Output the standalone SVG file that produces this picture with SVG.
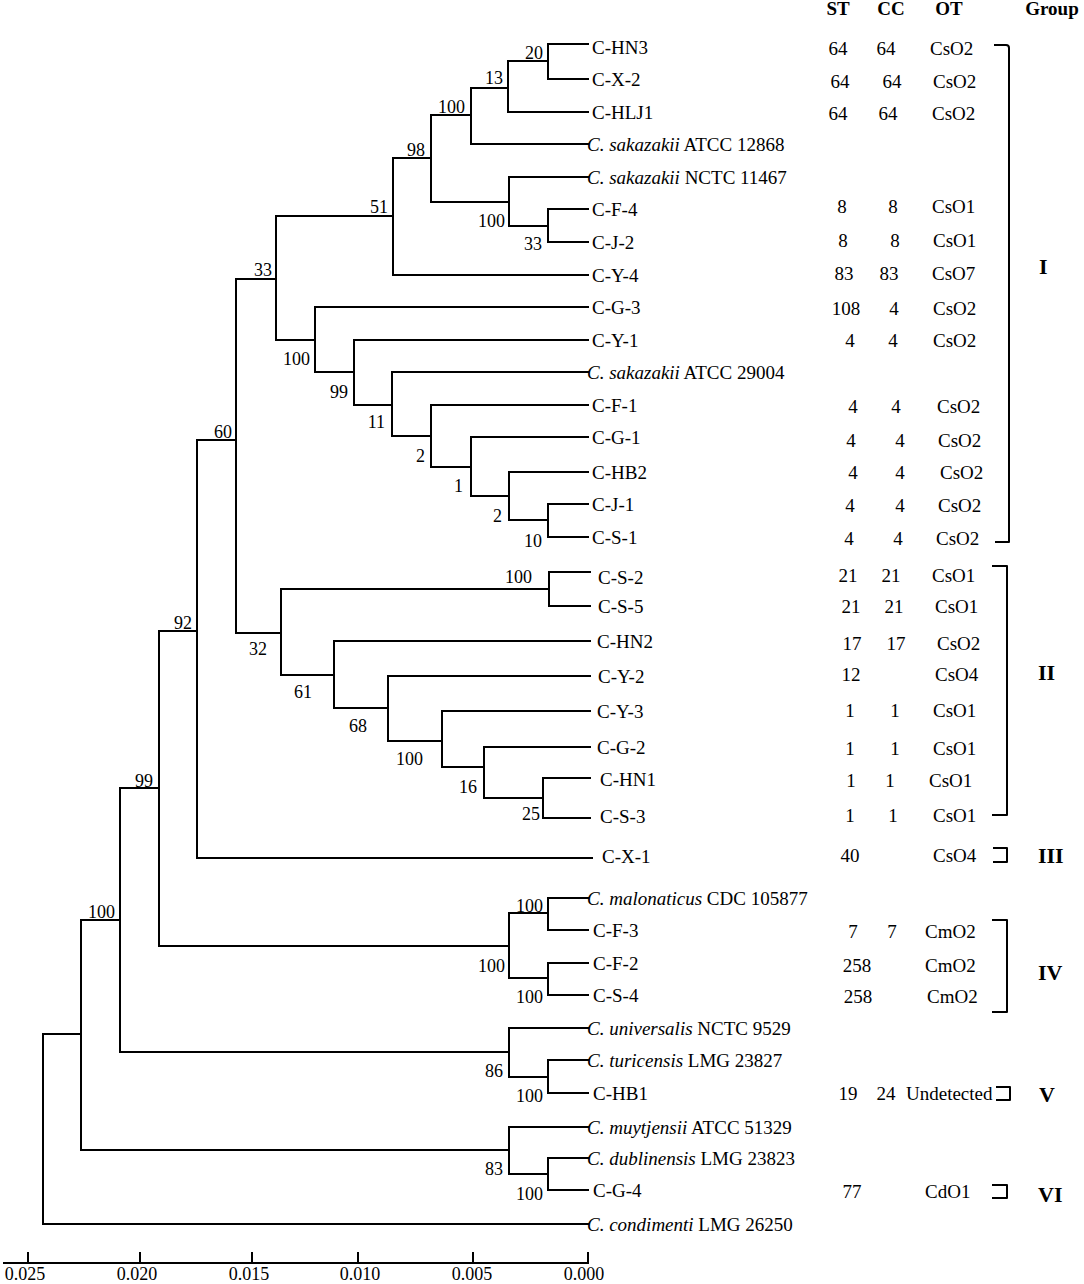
<svg xmlns="http://www.w3.org/2000/svg" width="1084" height="1284" viewBox="0 0 1084 1284">
<style>
text{font-family:"Liberation Serif","Times New Roman",serif;fill:#000}
.lf{font-size:19px}
.bs{font-size:18px;text-anchor:end}
.c{font-size:19px;text-anchor:middle}
.o{font-size:19px}
.h{font-size:19px;font-weight:bold;text-anchor:middle}
.g{font-size:22px;font-weight:bold}
.ax{font-size:18px;text-anchor:middle}
.it{font-style:italic}
.br{fill:none;stroke:#000;stroke-width:2;stroke-linejoin:round}
#connectors path{fill:none;stroke:#000;stroke-width:2;stroke-linecap:square}
</style>
<rect width="1084" height="1284" fill="#fff"/>
<g id="connectors">
<path d="M43,1034 V1224 M43,1034 H81 M43,1224 H588"/>
<path d="M81,920 V1150 M81,920 H120 M81,1150 H509"/>
<path d="M120,788 V1052 M120,788 H159 M120,1052 H509"/>
<path d="M159,631 V946 M159,631 H197 M159,946 H509"/>
<path d="M197,440 V858 M197,440 H236 M197,858 H592"/>
<path d="M236,279 V633 M236,279 H276 M236,633 H281"/>
<path d="M276,216 V340 M276,216 H393 M276,340 H315"/>
<path d="M393,158 V275 M393,158 H431 M393,275 H588"/>
<path d="M431,115 V202 M431,115 H471 M431,202 H509"/>
<path d="M471,88 V144 M471,88 H508 M471,144 H588"/>
<path d="M508,61 V112 M508,61 H548 M508,112 H588"/>
<path d="M548,44 V79 M548,44 H588 M548,79 H588"/>
<path d="M509,177 V226 M509,177 H588 M509,226 H548"/>
<path d="M548,209 V242 M548,209 H588 M548,242 H588"/>
<path d="M315,307 V372 M315,307 H588 M315,372 H354"/>
<path d="M354,340 V405 M354,340 H588 M354,405 H392"/>
<path d="M392,372 V436 M392,372 H588 M392,436 H431"/>
<path d="M431,405 V467 M431,405 H588 M431,467 H471"/>
<path d="M471,437 V496 M471,437 H588 M471,496 H509"/>
<path d="M509,472 V520 M509,472 H588 M509,520 H548"/>
<path d="M548,504 V537 M548,504 H588 M548,537 H588"/>
<path d="M281,589 V675 M281,589 H549 M281,675 H334"/>
<path d="M549,572 V606 M549,572 H590 M549,606 H590"/>
<path d="M334,641 V708 M334,641 H590 M334,708 H388"/>
<path d="M388,676 V741 M388,676 H590 M388,741 H442"/>
<path d="M442,711 V767 M442,711 H590 M442,767 H484"/>
<path d="M484,747 V798 M484,747 H590 M484,798 H543"/>
<path d="M543,778 V818 M543,778 H590 M543,818 H590"/>
<path d="M509,913 V978 M509,913 H548 M509,978 H548"/>
<path d="M548,898 V930 M548,898 H588 M548,930 H588"/>
<path d="M548,963 V995 M548,963 H588 M548,995 H588"/>
<path d="M509,1028 V1077 M509,1028 H588 M509,1077 H548"/>
<path d="M548,1060 V1093 M548,1060 H588 M548,1093 H588"/>
<path d="M509,1127 V1174 M509,1127 H588 M509,1174 H548"/>
<path d="M548,1158 V1190 M548,1158 H588 M548,1190 H588"/>
</g>
<g id="bootstrap">
<text class="bs" x="543" y="59">20</text>
<text class="bs" x="503" y="84">13</text>
<text class="bs" x="465" y="113">100</text>
<text class="bs" x="425" y="156">98</text>
<text class="bs" x="505" y="227">100</text>
<text class="bs" x="542" y="250">33</text>
<text class="bs" x="388" y="213">51</text>
<text class="bs" x="272" y="276">33</text>
<text class="bs" x="310" y="365">100</text>
<text class="bs" x="348" y="398">99</text>
<text class="bs" x="385" y="428">11</text>
<text class="bs" x="425" y="462">2</text>
<text class="bs" x="463" y="492">1</text>
<text class="bs" x="502" y="522">2</text>
<text class="bs" x="542" y="547">10</text>
<text class="bs" x="232" y="438">60</text>
<text class="bs" x="267" y="655">32</text>
<text class="bs" x="532" y="583">100</text>
<text class="bs" x="312" y="698">61</text>
<text class="bs" x="367" y="732">68</text>
<text class="bs" x="423" y="765">100</text>
<text class="bs" x="477" y="793">16</text>
<text class="bs" x="540" y="820">25</text>
<text class="bs" x="192" y="629">92</text>
<text class="bs" x="153" y="787">99</text>
<text class="bs" x="115" y="918">100</text>
<text class="bs" x="505" y="972">100</text>
<text class="bs" x="543" y="912">100</text>
<text class="bs" x="543" y="1003">100</text>
<text class="bs" x="503" y="1077">86</text>
<text class="bs" x="543" y="1102">100</text>
<text class="bs" x="503" y="1175">83</text>
<text class="bs" x="543" y="1200">100</text>
</g>
<g id="header">
<text class="h" x="838" y="15">ST</text>
<text class="h" x="891" y="15">CC</text>
<text class="h" x="949" y="15">OT</text>
<text class="h" x="1052" y="15">Group</text>
</g>
<g id="leaf-C-HN3"><text class="lf" x="592" y="54">C-HN3</text><text class="c" x="838" y="55">64</text><text class="c" x="886" y="55">64</text><text class="o" x="930" y="55">CsO2</text></g>
<g id="leaf-C-X-2"><text class="lf" x="592" y="86">C-X-2</text><text class="c" x="840" y="88">64</text><text class="c" x="892" y="88">64</text><text class="o" x="933" y="88">CsO2</text></g>
<g id="leaf-C-HLJ1"><text class="lf" x="592" y="119">C-HLJ1</text><text class="c" x="838" y="120">64</text><text class="c" x="888" y="120">64</text><text class="o" x="932" y="120">CsO2</text></g>
<g id="leaf-ATCC12868"><text class="lf" x="587" y="151"><tspan class="it">C. sakazakii</tspan> ATCC 12868</text></g>
<g id="leaf-NCTC11467"><text class="lf" x="587" y="184"><tspan class="it">C. sakazakii</tspan> NCTC 11467</text></g>
<g id="leaf-C-F-4"><text class="lf" x="592" y="216">C-F-4</text><text class="c" x="842" y="213">8</text><text class="c" x="893" y="213">8</text><text class="o" x="932" y="213">CsO1</text></g>
<g id="leaf-C-J-2"><text class="lf" x="592" y="249">C-J-2</text><text class="c" x="843" y="247">8</text><text class="c" x="895" y="247">8</text><text class="o" x="933" y="247">CsO1</text></g>
<g id="leaf-C-Y-4"><text class="lf" x="592" y="282">C-Y-4</text><text class="c" x="844" y="280">83</text><text class="c" x="889" y="280">83</text><text class="o" x="932" y="280">CsO7</text></g>
<g id="leaf-C-G-3"><text class="lf" x="592" y="314">C-G-3</text><text class="c" x="846" y="315">108</text><text class="c" x="894" y="315">4</text><text class="o" x="933" y="315">CsO2</text></g>
<g id="leaf-C-Y-1"><text class="lf" x="592" y="347">C-Y-1</text><text class="c" x="850" y="347">4</text><text class="c" x="893" y="347">4</text><text class="o" x="933" y="347">CsO2</text></g>
<g id="leaf-ATCC29004"><text class="lf" x="587" y="379"><tspan class="it">C. sakazakii</tspan> ATCC 29004</text></g>
<g id="leaf-C-F-1"><text class="lf" x="592" y="412">C-F-1</text><text class="c" x="853" y="413">4</text><text class="c" x="896" y="413">4</text><text class="o" x="937" y="413">CsO2</text></g>
<g id="leaf-C-G-1"><text class="lf" x="592" y="444">C-G-1</text><text class="c" x="851" y="447">4</text><text class="c" x="900" y="447">4</text><text class="o" x="938" y="447">CsO2</text></g>
<g id="leaf-C-HB2"><text class="lf" x="592" y="479">C-HB2</text><text class="c" x="853" y="479">4</text><text class="c" x="900" y="479">4</text><text class="o" x="940" y="479">CsO2</text></g>
<g id="leaf-C-J-1"><text class="lf" x="592" y="511">C-J-1</text><text class="c" x="850" y="512">4</text><text class="c" x="900" y="512">4</text><text class="o" x="938" y="512">CsO2</text></g>
<g id="leaf-C-S-1"><text class="lf" x="592" y="544">C-S-1</text><text class="c" x="849" y="545">4</text><text class="c" x="898" y="545">4</text><text class="o" x="936" y="545">CsO2</text></g>
<g id="leaf-C-S-2"><text class="lf" x="598" y="584">C-S-2</text><text class="c" x="848" y="582">21</text><text class="c" x="891" y="582">21</text><text class="o" x="932" y="582">CsO1</text></g>
<g id="leaf-C-S-5"><text class="lf" x="598" y="613">C-S-5</text><text class="c" x="851" y="613">21</text><text class="c" x="894" y="613">21</text><text class="o" x="935" y="613">CsO1</text></g>
<g id="leaf-C-HN2"><text class="lf" x="597" y="648">C-HN2</text><text class="c" x="852" y="650">17</text><text class="c" x="896" y="650">17</text><text class="o" x="937" y="650">CsO2</text></g>
<g id="leaf-C-Y-2"><text class="lf" x="598" y="683">C-Y-2</text><text class="c" x="851" y="681">12</text><text class="o" x="935" y="681">CsO4</text></g>
<g id="leaf-C-Y-3"><text class="lf" x="597" y="718">C-Y-3</text><text class="c" x="850" y="717">1</text><text class="c" x="895" y="717">1</text><text class="o" x="933" y="717">CsO1</text></g>
<g id="leaf-C-G-2"><text class="lf" x="597" y="754">C-G-2</text><text class="c" x="850" y="755">1</text><text class="c" x="895" y="755">1</text><text class="o" x="933" y="755">CsO1</text></g>
<g id="leaf-C-HN1"><text class="lf" x="600" y="786">C-HN1</text><text class="c" x="851" y="787">1</text><text class="c" x="890" y="787">1</text><text class="o" x="929" y="787">CsO1</text></g>
<g id="leaf-C-S-3"><text class="lf" x="600" y="823">C-S-3</text><text class="c" x="850" y="822">1</text><text class="c" x="893" y="822">1</text><text class="o" x="933" y="822">CsO1</text></g>
<g id="leaf-C-X-1"><text class="lf" x="602" y="863">C-X-1</text><text class="c" x="850" y="862">40</text><text class="o" x="933" y="862">CsO4</text></g>
<g id="leaf-malonaticus"><text class="lf" x="587" y="905"><tspan class="it">C. malonaticus</tspan> CDC 105877</text></g>
<g id="leaf-C-F-3"><text class="lf" x="593" y="937">C-F-3</text><text class="c" x="853" y="938">7</text><text class="c" x="892" y="938">7</text><text class="o" x="925" y="938">CmO2</text></g>
<g id="leaf-C-F-2"><text class="lf" x="593" y="970">C-F-2</text><text class="c" x="857" y="972">258</text><text class="o" x="925" y="972">CmO2</text></g>
<g id="leaf-C-S-4"><text class="lf" x="593" y="1002">C-S-4</text><text class="c" x="858" y="1003">258</text><text class="o" x="927" y="1003">CmO2</text></g>
<g id="leaf-universalis"><text class="lf" x="587" y="1035"><tspan class="it">C. universalis</tspan> NCTC 9529</text></g>
<g id="leaf-turicensis"><text class="lf" x="587" y="1067"><tspan class="it">C. turicensis</tspan> LMG 23827</text></g>
<g id="leaf-C-HB1"><text class="lf" x="593" y="1100">C-HB1</text><text class="c" x="848" y="1100">19</text><text class="c" x="886" y="1100">24</text><text class="o" x="906" y="1100">Undetected</text></g>
<g id="leaf-muytjensii"><text class="lf" x="587" y="1134"><tspan class="it">C. muytjensii</tspan> ATCC 51329</text></g>
<g id="leaf-dublinensis"><text class="lf" x="587" y="1165"><tspan class="it">C. dublinensis</tspan> LMG 23823</text></g>
<g id="leaf-C-G-4"><text class="lf" x="593" y="1197">C-G-4</text><text class="c" x="852" y="1198">77</text><text class="o" x="925" y="1198">CdO1</text></g>
<g id="leaf-condimenti"><text class="lf" x="587" y="1231"><tspan class="it">C. condimenti</tspan> LMG 26250</text></g>
<g id="groups">
<path class="br" d="M994,45 H1006 Q1009,45 1009,48 V542 H995"/>
<path class="br" d="M992,566 H1007 V815 H992"/>
<path class="br" d="M993,848 H1007 V862 H993"/>
<path class="br" d="M992,920 H1007 V1012 H992"/>
<path class="br" d="M996,1087 H1010 V1100 H996"/>
<path class="br" d="M992,1185 H1007 V1198 H992"/>
<text class="g" x="1039" y="274">I</text>
<text class="g" x="1038" y="680">II</text>
<text class="g" x="1038" y="863">III</text>
<text class="g" x="1038" y="980">IV</text>
<text class="g" x="1039" y="1102">V</text>
<text class="g" x="1038" y="1202">VI</text>
</g>
<g id="axis">
<path d="M3,1263 H589 M28,1252 V1263 M140,1252 V1263 M252,1252 V1263 M358,1252 V1263 M473,1252 V1263 M588,1252 V1263" fill="none" stroke="#000" stroke-width="2"/>
<text class="ax" x="25" y="1280">0.025</text>
<text class="ax" x="137" y="1280">0.020</text>
<text class="ax" x="249" y="1280">0.015</text>
<text class="ax" x="360" y="1280">0.010</text>
<text class="ax" x="472" y="1280">0.005</text>
<text class="ax" x="584" y="1280">0.000</text>
</g>
</svg>
